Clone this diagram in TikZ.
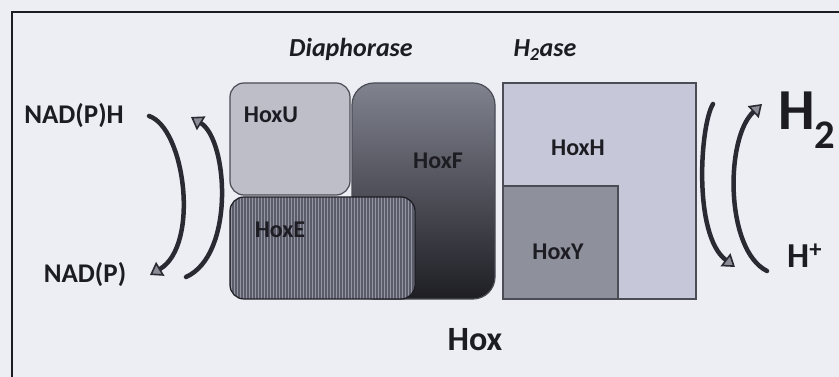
\documentclass[tikz,border=0pt]{standalone}
\usepackage{fontspec}
\setmainfont{Carlito}
\usetikzlibrary{arrows.meta}
\definecolor{bgc}{HTML}{ECEEF3}
\definecolor{ink}{HTML}{1C1C22}
\definecolor{hoxu}{HTML}{BDBEC8}
\definecolor{hoxftop}{HTML}{80828E}
\definecolor{hoxfbot}{HTML}{1E1E24}
\definecolor{hoxe}{HTML}{5A5C6A}
\definecolor{hoxestripe}{HTML}{9496A4}
\definecolor{hoxh}{HTML}{C6C8DA}
\definecolor{hoxy}{HTML}{8E909C}
\definecolor{edge}{HTML}{4A4C56}
\definecolor{arrowc}{HTML}{2A2A32}
\definecolor{headc}{HTML}{8A8C96}
\begin{document}
\begin{tikzpicture}[x=1pt,y=-1pt,
  lab/.style={inner sep=0pt,anchor=base,text=ink,font=\bfseries\fontsize{24}{24}\selectfont},
  side/.style={inner sep=0pt,anchor=base,text=ink,font=\bfseries\fontsize{27}{27}\selectfont},
  head/.style={inner sep=0pt,anchor=base,text=ink,font=\bfseries\itshape\fontsize{26}{26}\selectfont},
  boxline/.style={draw=edge,line width=1.2pt},
  curv/.style={draw=arrowc,line width=4.5pt,line cap=round,
    -{Triangle[length=12pt,width=16pt,fill=headc,line width=1.6pt]}},
  frame/.style={draw=ink,line width=1.6pt}]
\useasboundingbox (0,0) rectangle (839,377);
\fill[bgc] (0,0) rectangle (839,377);
\draw[frame] (12,377) -- (12,12) -- (839,12);

% HoxF
\shade[top color=hoxftop,bottom color=hoxfbot,rounded corners=22pt] (352,83) rectangle (495,299);
\draw[boxline,rounded corners=22pt] (352,83) rectangle (495,299);
% HoxU
\fill[hoxu,rounded corners=14pt] (230,83) rectangle (350,195);
\draw[boxline,rounded corners=14pt] (230,83) rectangle (350,195);
% HoxE
\begin{scope}
  \clip[rounded corners=14pt] (230,197) rectangle (415,299);
  \fill[hoxe] (230,197) rectangle (415,299);
  \foreach \x in {231,234,...,415} \draw[hoxestripe,line width=0.9pt] (\x,197) -- (\x,299);
\end{scope}
\draw[boxline,draw=ink,rounded corners=14pt] (230,197) rectangle (415,299);
% HoxH
\fill[hoxh] (503,83) rectangle (696,299);
\draw[boxline] (503,83) rectangle (696,299);
% HoxY
\fill[hoxy] (503,186) rectangle (618,299);
\draw[boxline] (503,186) rectangle (618,299);

% labels
\node[head] (dia) at (351,57) {Diaphorase};
\node[head] (hase) at (545,57) {H\textsubscript{2}ase};
\node[lab] (lu) at (271,123) {HoxU};
\node[lab] (lf) at (438,169) {HoxF};
\node[lab] (le) at (280,237) {HoxE};
\node[lab] (lh) at (578,156) {HoxH};
\node[lab] (ly) at (558,260) {HoxY};
\node[inner sep=0pt,anchor=base,text=ink,font=\bfseries\fontsize{34}{34}\selectfont] (hox) at (475,350) {Hox};
\node[side] (nadph) at (74,124) {NAD(P)H};
\node[side] (nadp) at (85,282) {NAD(P)};
\node[inner sep=0pt,anchor=base west,text=ink,font=\bfseries\fontsize{58}{58}\selectfont] (h2) at (778,130) {H\textsubscript{2}};
\node[inner sep=0pt,anchor=base west,text=ink,font=\bfseries\fontsize{35}{35}\selectfont] (hp) at (787,267) {H\textsuperscript{+}};

% arrow end points
\coordinate (a1s) at (149,116);
\coordinate (a1e) at (150,275);
\coordinate (a2s) at (186,277);
\coordinate (a2e) at (191,117);
\coordinate (a3s) at (713,104);
\coordinate (a3e) at (735,267);
\coordinate (a4s) at (767,271);
\coordinate (a4e) at (762,104);

\draw[curv] (a1s) .. controls (185,128) and (200,245) .. (a1e);
\draw[curv] (a2s) .. controls (235,255) and (228,140) .. (a2e);
\draw[curv] (a3s) .. controls (700,125) and (693,235) .. (a3e);
\draw[curv] (a4s) .. controls (725,250) and (725,138) .. (a4e);
\end{tikzpicture}
\end{document}
